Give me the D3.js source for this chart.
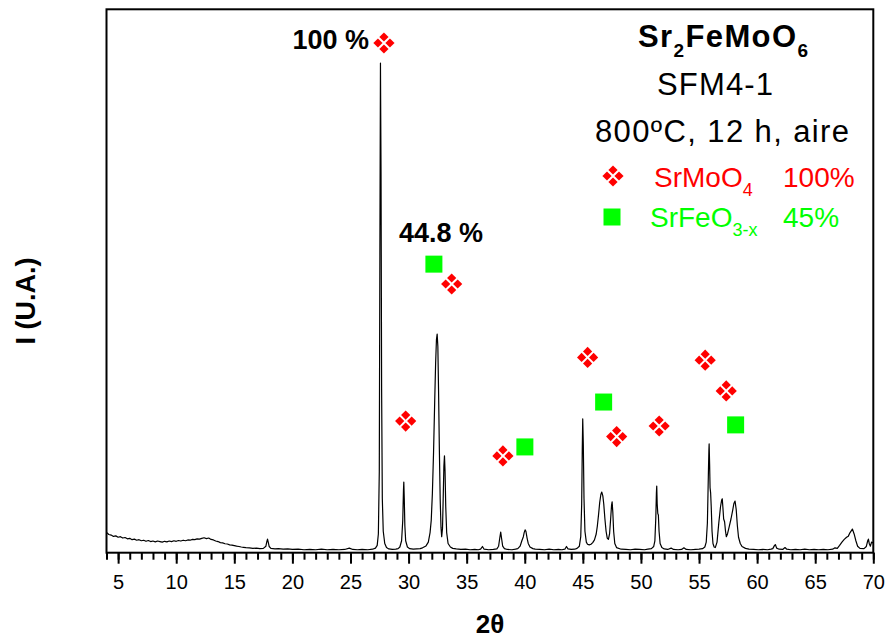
<!DOCTYPE html>
<html>
<head>
<meta charset="utf-8">
<script src="https://cdn.jsdelivr.net/npm/d3@7"></script>
<style>
  body { margin: 0; background: #fff; }
  svg { display: block; }
  text { font-family: "Liberation Sans", Arial, Helvetica, sans-serif; }
</style>
</head>
<body>
<svg id="chart" width="888" height="638"></svg>
<script>
// Diffraction scan: [2θ (degrees), intensity (a.u.)]
const scan = [
  [4.0,76],[4.2,68],[4.4,66],[4.6,61],[4.8,63],[5.0,58],[5.2,60],[5.4,55],[5.6,57],[5.8,52],
  [6.0,54],[6.2,49],[6.4,51],[6.6,47],[6.8,49],[7.0,45],[7.2,47],[7.4,43],[7.6,46],[7.8,42],
  [8.0,44],[8.2,41],[8.4,44],[8.6,42],[8.8,40],[9.0,43],[9.2,41],[9.4,44],[9.6,42],[9.8,45],
  [10.0,43],[10.2,46],[10.4,44],[10.6,47],[10.8,45],[11.0,48],[11.2,47],[11.4,50],[11.6,49],[11.8,52],
  [12.0,51],[12.2,54],[12.4,56],[12.6,53],[12.8,55],[13.0,50],[13.2,48],[13.4,44],[13.6,42],[13.8,38],
  [14.0,37],[14.2,34],[14.4,33],[14.6,30],[14.8,29],[15.0,27],[15.2,25],[15.4,24],[15.6,22],[15.8,21],
  [16.0,20],[16.3,19],[16.6,17],[16.9,18],[17.2,16],[17.5,17],
  [17.72,25],[17.8,42],[17.86,51],[17.92,40],[18.0,24],[18.15,17],[18.5,15],[18.8,16],[19.2,14],[19.6,15],
  [20.0,13],[20.5,14],[21.0,12],[21.5,13],[22.0,12],[22.5,14],[23.0,12],[23.5,13],[24.0,12],[24.5,13],
  [24.9,18],[25.2,13],[25.6,12],[26.0,13],[26.5,12],[26.9,14],
  [27.15,18],[27.3,28],[27.4,70],[27.48,300],[27.53,1100],[27.58,1801],[27.63,1400],[27.68,600],[27.74,200],[27.82,80],
  [27.95,35],[28.1,20],[28.3,15],[28.6,13],[28.9,14],[29.1,16],[29.25,22],[29.4,45],[29.5,120],[29.56,230],
  [29.59,261],[29.63,200],[29.68,100],[29.75,45],[29.9,22],[30.1,16],[30.4,14],[30.7,15],[31.0,16],[31.2,19],
  [31.5,26],[31.7,40],[31.85,75],[31.95,120],[32.05,220],[32.15,370],[32.25,560],[32.33,700],[32.4,785],[32.46,805],
  [32.52,760],[32.58,600],[32.65,380],[32.72,200],[32.79,95],[32.85,60],[32.92,90],[32.98,200],[33.04,320],[33.09,357],
  [33.14,300],[33.2,170],[33.28,75],[33.4,35],[33.6,22],[33.8,17],[34.1,15],[34.5,13],[34.9,14],[35.3,12],
  [35.7,13],[36.0,12],[36.2,14],[36.36,24],[36.5,14],[36.9,12],[37.3,13],[37.6,15],[37.75,25],[37.85,55],
  [37.93,77],[38.0,55],[38.1,25],[38.25,16],[38.5,13],[38.9,12],[39.2,14],[39.4,16],[39.6,25],[39.75,45],
  [39.88,60],[39.95,75],[40.03,85],[40.1,80],[40.2,55],[40.3,35],[40.45,22],[40.7,16],[40.9,14],[41.3,13],
  [41.7,12],[42.1,14],[42.5,12],[42.9,13],[43.2,12],[43.45,14],[43.59,24],[43.72,15],[44.0,13],[44.3,14],
  [44.5,17],[44.7,25],[44.82,60],[44.9,180],[44.95,380],[44.99,493],[45.04,400],[45.1,200],[45.18,80],[45.3,40],
  [45.4,32],[45.55,30],[45.7,32],[45.85,38],[46.0,48],[46.15,70],[46.25,100],[46.35,140],[46.45,185],[46.55,215],
  [46.63,224],[46.72,210],[46.8,180],[46.9,125],[47.0,80],[47.1,55],[47.2,50],[47.3,70],[47.4,130],[47.47,175],
  [47.52,188],[47.58,150],[47.65,80],[47.75,35],[47.9,20],[48.3,14],[48.7,13],[49.1,12],[49.5,14],[49.9,13],
  [50.3,12],[50.6,14],[50.9,16],[51.1,24],[51.2,45],[51.28,130],[51.33,220],[51.36,246],[51.4,180],[51.45,145],
  [51.5,140],[51.56,80],[51.65,35],[51.8,20],[52.0,15],[52.3,13],[52.6,18],[52.8,13],[53.2,12],[53.5,13],
  [53.7,19],[53.9,13],[54.3,12],[54.7,13],[55.0,14],[55.3,16],[55.5,22],[55.62,40],[55.72,110],[55.8,280],
  [55.85,380],[55.87,401],[55.91,330],[55.95,240],[56.0,220],[56.05,170],[56.12,80],[56.2,35],[56.3,22],[56.4,20],
  [56.55,40],[56.7,110],[56.85,170],[56.95,195],[57.0,199],[57.05,170],[57.12,125],[57.2,115],[57.28,80],[57.35,60],
  [57.45,70],[57.6,97],[57.75,125],[57.9,158],[58.0,182],[58.1,191],[58.2,160],[58.3,100],[58.4,58],[58.55,35],
  [58.7,24],[59.0,17],[59.3,14],[59.7,13],[60.1,12],[60.5,13],[60.9,12],[61.2,14],[61.35,16],[61.5,28],
  [61.57,31],[61.68,18],[61.9,14],[62.2,13],[62.4,20],[62.55,14],[62.9,12],[63.3,13],[63.7,12],[64.1,14],
  [64.5,12],[64.9,13],[65.3,12],[65.7,13],[66.1,12],[66.5,14],[66.7,19],[66.9,17],[67.1,28],[67.3,40],
  [67.5,50],[67.7,58],[67.85,62],[68.0,75],[68.2,88],[68.35,70],[68.5,45],[68.65,25],[68.85,17],[69.2,16],
  [69.4,24],[69.52,45],[69.58,51],[69.65,35],[69.75,25],[69.85,40],[70.0,37]
];

// Reflections assigned to each phase: [2θ, intensity] of the marker
const srMoO4Marks = [[27.88,1875],[29.75,485],[33.71,989],[38.12,357],[45.41,719],[47.91,428],[51.57,467],[55.53,709],[57.34,596]];
const srFeO3Marks = [[32.18,1062],[40.01,390],[46.79,555],[58.15,471]];

// Relative-intensity labels on the strongest reflections
const peakLabels = ["100 %", "44.8 %"];
const peakLabelPos = [[26.6,1853],[29.17,1143]];
const peakLabelAnchor = ["end", "start"];

// Axis ticks
const majorTicks = [5,10,15,20,25,30,35,40,45,50,55,60,65,70];
const minorTicks = d3.range(4, 71, 1);

// Sample description and phase legend
const sampleName = "SFM4-1";
const sampleTreatment = "800ºC, 12 h, aire";
const phaseNames = [["SrMoO", "4"], ["SrFeO", "3-x"]];
const phaseFractions = ["100%", "45%"];

const svg = d3.select("#chart");
const plot = {left: 106.5, right: 873.3, top: 9.3, bottom: 552.7};

const x = d3.scaleLinear().domain([4, 70]).range([plot.left, plot.right]);
const y = d3.scaleLinear().domain([0, 2000]).range([553, 9]);

svg.append("defs").append("clipPath").attr("id", "plotClip")
  .append("rect")
  .attr("x", plot.left).attr("y", plot.top)
  .attr("width", plot.right - plot.left).attr("height", plot.bottom - plot.top);

// Pattern line
const line = d3.line().x(d => x(d[0])).y(d => y(d[1]));
svg.append("path")
  .datum(scan)
  .attr("clip-path", "url(#plotClip)")
  .attr("fill", "none")
  .attr("stroke", "#000")
  .attr("stroke-width", 1.2)
  .attr("stroke-linejoin", "round")
  .attr("d", line);

// Frame
svg.append("rect")
  .attr("x", plot.left).attr("y", plot.top)
  .attr("width", plot.right - plot.left).attr("height", plot.bottom - plot.top)
  .attr("fill", "none").attr("stroke", "#000").attr("stroke-width", 2);

// Bottom axis: minor ticks every degree, labelled major ticks every 5
const minorAxis = svg.append("g")
  .attr("transform", `translate(0,${plot.bottom})`)
  .call(d3.axisBottom(x).tickValues(minorTicks).tickSize(7).tickFormat(""));
minorAxis.select(".domain").remove();
minorAxis.selectAll(".tick line").attr("stroke-width", 2);

const majorAxis = svg.append("g")
  .attr("transform", `translate(0,${plot.bottom})`)
  .call(d3.axisBottom(x).tickValues(majorTicks).tickSize(11).tickPadding(11).tickFormat(d3.format("d")));
majorAxis.select(".domain").remove();
majorAxis.selectAll(".tick line").attr("stroke-width", 2);
majorAxis.selectAll(".tick text")
  .attr("font-size", 20)
  .attr("fill", "#000")
  .style("font-family", '"Liberation Sans", Arial, sans-serif');

// Axis titles
svg.append("text")
  .attr("x", 490).attr("y", 633)
  .attr("text-anchor", "middle")
  .attr("font-size", 26).attr("font-weight", "bold")
  .text("2θ");

svg.append("text")
  .attr("transform", "translate(35,301) rotate(-90)")
  .attr("text-anchor", "middle")
  .attr("font-size", 27).attr("font-weight", "bold")
  .text("I (U.A.)");

// Marker shapes
function drawClover(g, cx, cy) {
  const off = 6, r = 4.6;
  const diamond = `M0,${-r}L${r},0L0,${r}L${-r},0Z`;
  [[0,-off],[-off,0],[off,0],[0,off]].forEach(([dx, dy]) => {
    g.append("path")
      .attr("transform", `translate(${cx + dx},${cy + dy})`)
      .attr("d", diamond)
      .attr("fill", "#ff0000");
  });
}
function drawSquare(g, cx, cy) {
  const s = 17;
  g.append("rect")
    .attr("x", cx - s / 2).attr("y", cy - s / 2)
    .attr("width", s).attr("height", s)
    .attr("fill", "#00ff00");
}

const marks = svg.append("g");
srMoO4Marks.forEach(d => drawClover(marks, x(d[0]), y(d[1])));
srFeO3Marks.forEach(d => drawSquare(marks, x(d[0]), y(d[1])));

// Peak intensity labels
peakLabels.forEach((t, i) => {
  svg.append("text")
    .attr("x", x(peakLabelPos[i][0])).attr("y", y(peakLabelPos[i][1]))
    .attr("text-anchor", peakLabelAnchor[i])
    .attr("font-size", 27).attr("font-weight", "bold")
    .text(t);
});

// Sample title block
const formula = svg.append("text")
  .attr("x", 638).attr("y", 47)
  .attr("font-size", 31).attr("font-weight", "bold")
  .attr("textLength", 170).attr("lengthAdjust", "spacing");
formula.append("tspan").text("Sr");
formula.append("tspan").attr("font-size", 19).attr("dy", 10).text("2");
formula.append("tspan").attr("dy", -10).text("FeMoO");
formula.append("tspan").attr("font-size", 19).attr("dy", 10).text("6");

svg.append("text")
  .attr("x", 657).attr("y", 95)
  .attr("font-size", 31)
  .attr("textLength", 116).attr("lengthAdjust", "spacing")
  .text(sampleName);

svg.append("text")
  .attr("x", 595).attr("y", 142)
  .attr("font-size", 31)
  .attr("textLength", 254).attr("lengthAdjust", "spacing")
  .text(sampleTreatment);

// Phase legend
const legendColors = ["#ff0000", "#00ff00"];
const legendRowY = [187, 227];
const legend = svg.append("g");
drawClover(legend, 613, 176);
drawSquare(legend, 612, 217);
phaseNames.forEach((p, i) => {
  const t = legend.append("text")
    .attr("x", i === 0 ? 654 : 650).attr("y", legendRowY[i])
    .attr("font-size", 28).attr("fill", legendColors[i]);
  t.append("tspan").text(p[0]);
  t.append("tspan").attr("font-size", 18).attr("dy", 9).text(p[1]);
  legend.append("text")
    .attr("x", 783).attr("y", legendRowY[i])
    .attr("font-size", 28).attr("fill", legendColors[i])
    .text(phaseFractions[i]);
});
</script>
</body>
</html>
